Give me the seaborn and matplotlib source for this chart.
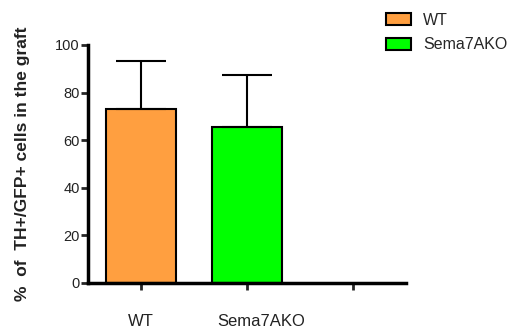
import numpy as np
import seaborn as sns
import matplotlib.pyplot as plt
import matplotlib.transforms as mtransforms

groups = ['WT', 'Sema7AKO']
means = [73.0, 65.5]
sd_upper = [20.3, 21.9]
slots = ['WT', 'Sema7AKO', '']
colors = ['#FF9F40', '#00FF00']

sns.set_style('white')
plt.rcParams['font.family'] = ['Liberation Sans', 'DejaVu Sans']

fig = plt.figure(figsize=(5.13, 3.32), dpi=100)
ax = fig.add_axes([0.1715, 0.1476, 0.6195, 0.717])

sns.barplot(x=groups, y=means, hue=groups, order=slots, hue_order=groups,
            palette=colors, saturation=1, width=0.66, edgecolor='black',
            linewidth=1.5, dodge=False, legend=True, ax=ax)

# only the upper half of the error bar is drawn
ax.errorbar([0, 1], means, yerr=[np.zeros(2), sd_upper], fmt='none',
            ecolor='black', elinewidth=1.5, capsize=18, capthick=1.5, zorder=3)

ax.set_xlim(-0.5, 2.5)
ax.set_ylim(0, 100)
ax.set_yticks([0, 20, 40, 60, 80, 100])
ax.set_xticks([0, 1, 2])
ax.set_xticklabels(['WT', 'Sema7AKO', ''], fontsize=12)
ax.tick_params(axis='y', labelsize=10.5, length=5, width=2, pad=1, direction='out',
               left=True, labelcolor='#222222')
ax.tick_params(axis='x', length=5, width=2, pad=17, direction='out', bottom=True,
               labelcolor='#222222')
# the second group label sits a little right of its tick in the original
lbl = ax.get_xticklabels()[1]
lbl.set_transform(lbl.get_transform() + mtransforms.ScaledTranslation(0.14, 0, fig.dpi_scale_trans))
sns.despine(ax=ax)
for s in ['left', 'bottom']:
    ax.spines[s].set_linewidth(2.5)
    ax.spines[s].set_color('black')
ax.set_xlabel('')
ax.set_ylabel('%  of  TH+/GFP+ cells in the graft', fontsize=12.5, fontweight='bold',
              labelpad=18, color='#222222')

handles, labels = ax.get_legend_handles_labels()
ax.legend(handles, labels, loc='upper left', bbox_to_anchor=(0.752, 0.962),
          bbox_transform=fig.transFigure, frameon=False, fontsize=11.5,
          borderpad=0, borderaxespad=0,
          handlelength=1.55, handleheight=0.8, handletextpad=0.8, labelspacing=0.6)
for p in ax.get_legend().get_patches():
    p.set_edgecolor('black')
    p.set_linewidth(1.5)

fig.savefig('out.png', dpi=100)
